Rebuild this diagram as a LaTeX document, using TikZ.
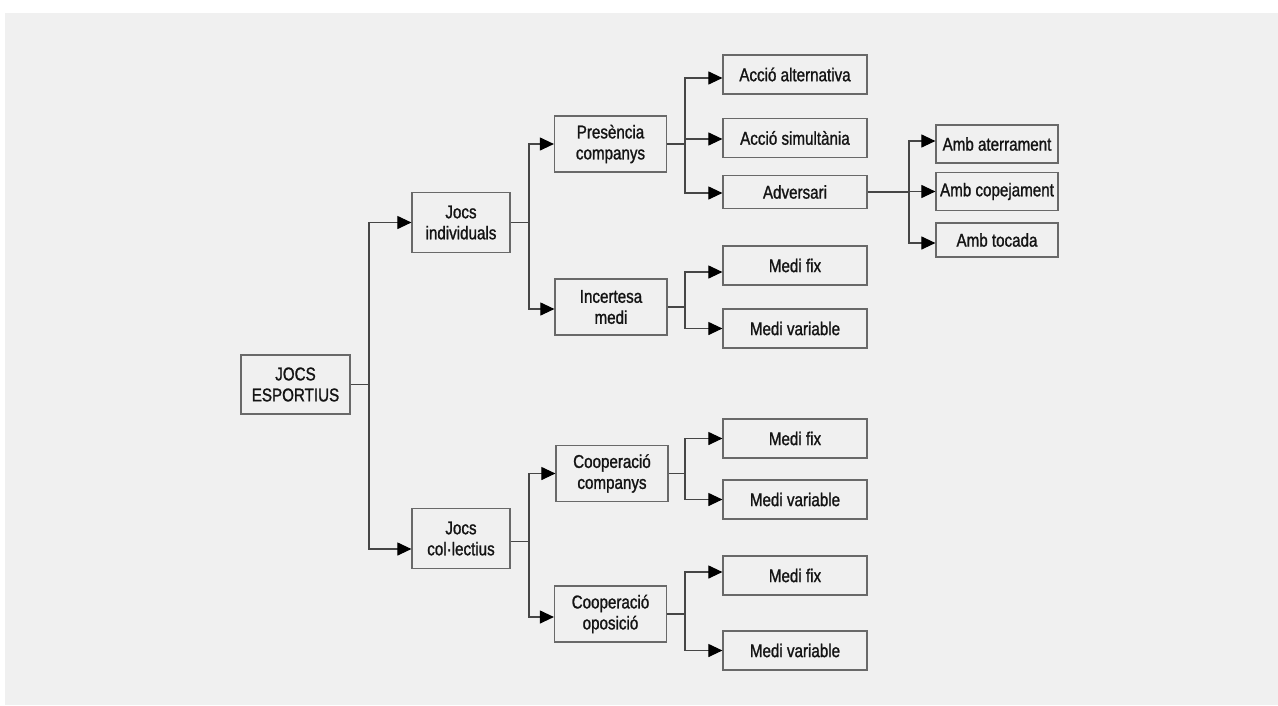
\documentclass[tikz,border=0pt]{standalone}
\usepackage{fontspec}
\setmainfont{Liberation Sans}[FakeStretch=0.82, FakeBold=1.2]
\usetikzlibrary{arrows.meta}
\definecolor{paper}{RGB}{240,240,240}
\definecolor{edge}{RGB}{105,105,105}
\definecolor{cable}{RGB}{70,70,70}
\definecolor{ink}{RGB}{20,20,20}
\tikzset{
  box/.style={draw=edge, line width=1.2pt, rectangle, inner sep=0pt,
    align=center, text=ink, font=\fontsize{18.5}{21}\selectfont},
  top/.style={box, minimum width=109pt, minimum height=59pt},
  lvlone/.style={box, minimum width=98pt, minimum height=60pt},
  lvltwo/.style={box, minimum width=112pt, minimum height=56pt},
  leaf/.style={box, minimum width=144pt, minimum height=39pt},
  leafend/.style={box, minimum width=122pt, minimum height=38pt},
  wire/.style={draw=cable, line width=1.1pt},
  arr/.style={wire, -{Triangle[length=14pt,width=13pt,color=black]}}
}
\begin{document}
\begin{tikzpicture}[x=1pt,y=-1pt]
  % page and grey paper
  \fill[white] (0,0) rectangle (1278,705);
  \fill[paper] (5,13) rectangle (1278,705);
  \useasboundingbox (0,0) rectangle (1278,705);

  % root
  \node[top] (root) at (295.5,384.5) {JOCS\\ESPORTIUS};

  % first level
  \node[lvlone] (ind) at (461,222.5) {Jocs\\individuals};
  \node[lvlone] (col) at (461,538.5) {Jocs\\col·lectius};

  % second level
  \node[lvltwo] (pres) at (610.5,144) {Presència\\companys};
  \node[lvltwo] (inc) at (611,307) {Incertesa\\medi};
  \node[lvltwo] (coopc) at (612,473.5) {Cooperació\\companys};
  \node[lvltwo] (coopo) at (610.5,614) {Cooperació\\oposició};

  % third level
  \node[leaf] (alt) at (795,74.5) {Acció alternativa};
  \node[leaf] (sim) at (795,138) {Acció simultània};
  \node[leaf, minimum height=33pt] (adv) at (795,192) {Adversari};
  \node[leaf] (mfa) at (795,265.5) {Medi fix};
  \node[leaf] (mva) at (795,328.5) {Medi variable};
  \node[leaf] (mfb) at (795,438.5) {Medi fix};
  \node[leaf] (mvb) at (795,499.5) {Medi variable};
  \node[leaf] (mfc) at (795,575.5) {Medi fix};
  \node[leaf] (mvc) at (795,650.5) {Medi variable};

  % fourth level
  \node[leafend] (ater) at (997,144) {Amb aterrament};
  \node[leafend] (cop) at (997,191.5) {Amb copejament};
  \node[leafend, minimum height=34pt] (toc) at (997,240) {Amb tocada};

  % bus positions
  \coordinate (b0) at (369,0);
  \coordinate (b1) at (529,0);
  \coordinate (b2) at (685,0);
  \coordinate (b3) at (909,0);
  \coordinate (colout) at ([yshift=-3pt]col.east);

  % root -> first level
  \draw[wire] (root.east) -- (b0 |- root.east);
  \draw[arr] (b0 |- root.east) |- (ind.west);
  \draw[arr] (b0 |- root.east) |- ([yshift=-10.5pt]col.west);

  % individual games
  \draw[wire] (ind.east) -- (b1 |- ind.east);
  \draw[arr] (b1 |- ind.east) |- (pres.west);
  \draw[arr] (b1 |- ind.east) |- ([yshift=-2pt]inc.west);

  % collective games
  \draw[wire] (colout) -- (b1 |- colout);
  \draw[arr] (b1 |- colout) |- (coopc.west);
  \draw[arr] (b1 |- colout) |- ([yshift=-3pt]coopo.west);

  % presence of partners
  \draw[wire] (pres.east) -- (b2 |- pres.east);
  \draw[arr] (b2 |- pres.east) |- ([yshift=-3.5pt]alt.west);
  \draw[arr] (b2 |- pres.east) |- ([yshift=-1pt]sim.west);
  \draw[arr] (b2 |- pres.east) |- ([yshift=-1pt]adv.west);

  % uncertainty of the environment
  \draw[wire] (inc.east) -- (b2 |- inc.east);
  \draw[arr] (b2 |- inc.east) |- ([yshift=-6.5pt]mfa.west);
  \draw[arr] (b2 |- inc.east) |- (mva.west);

  % cooperation with partners
  \draw[wire] (coopc.east) -- (b2 |- coopc.east);
  \draw[arr] (b2 |- coopc.east) |- (mfb.west);
  \draw[arr] (b2 |- coopc.east) |- (mvb.west);

  % cooperation and opposition
  \draw[wire] (coopo.east) -- (b2 |- coopo.east);
  \draw[arr] (b2 |- coopo.east) |- ([yshift=3.5pt]mfc.west);
  \draw[arr] (b2 |- coopo.east) |- (mvc.west);

  % opponent
  \draw[wire] (adv.east) -- (b3 |- adv.east);
  \draw[arr] (b3 |- adv.east) |- ([yshift=3pt]ater.west);
  \draw[arr] (b3 |- adv.east) |- (cop.west);
  \draw[arr] (b3 |- adv.east) |- ([yshift=-3pt]toc.west);
\end{tikzpicture}
\end{document}
